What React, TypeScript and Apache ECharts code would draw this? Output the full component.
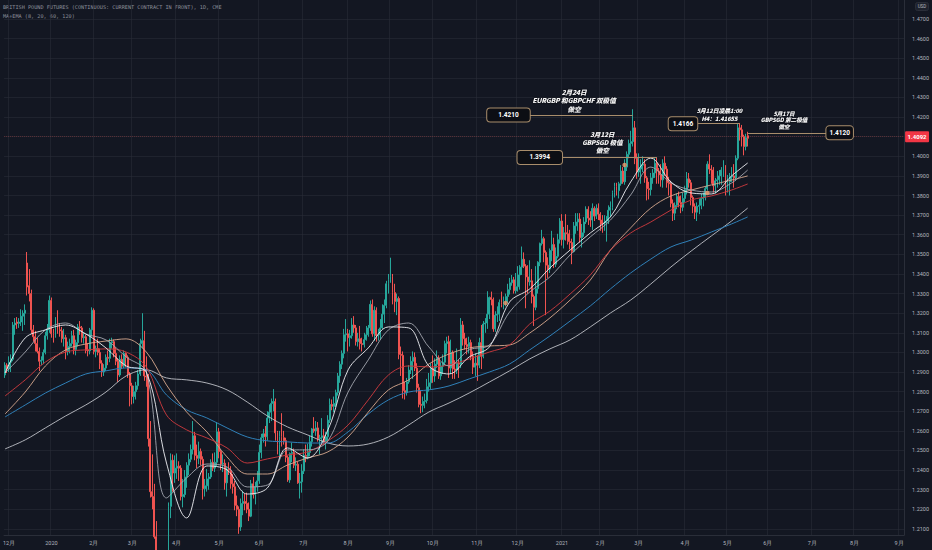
import React, { useEffect, useRef } from "react";
import * as echarts from "echarts";

// ---------- categories (CME trading days) ----------
const HOLIDAYS = [
  "2019-11-28", "2019-12-25", "2020-01-01", "2020-01-20", "2020-02-17", "2020-04-10",
  "2020-05-25", "2020-07-03", "2020-09-07", "2020-11-26", "2020-12-25", "2021-01-01",
  "2021-01-18", "2021-02-15", "2021-04-02", "2021-05-31", "2021-07-05",
];
const FIRST_DAY = "2019-11-27";
const LAST_DAY = "2021-09-03";

// ---------- OHLC data: [open, close, low, high] ----------
const ohlcNov2019 = [[1.2885, 1.2935, 1.2870, 1.2950], [1.2935, 1.2915, 1.2895, 1.2945]];
const ohlcDec2019 = [
  [1.2915, 1.2950, 1.2900, 1.2980], [1.2950, 1.2965, 1.2900, 1.2990], [1.2965, 1.3140, 1.2955, 1.3155],
  [1.3140, 1.3150, 1.3090, 1.3175], [1.3155, 1.3148, 1.3120, 1.3180], [1.3148, 1.3155, 1.3125, 1.3175],
  [1.3155, 1.3185, 1.3135, 1.3220], [1.3185, 1.3200, 1.3110, 1.3215], [1.3200, 1.3215, 1.3140, 1.3245],
  [1.3456, 1.3334, 1.3290, 1.3512], [1.3340, 1.3300, 1.3260, 1.3425], [1.3300, 1.3115, 1.3095, 1.3320],
  [1.3115, 1.3080, 1.3055, 1.3140], [1.3080, 1.3045, 1.3005, 1.3110], [1.3045, 1.3005, 1.2995, 1.3075],
  [1.3005, 1.2955, 1.2905, 1.3025], [1.2955, 1.2960, 1.2935, 1.2980], [1.2960, 1.3000, 1.2940, 1.3015],
  [1.3000, 1.3085, 1.2990, 1.3105], [1.3085, 1.3115, 1.3065, 1.3145], [1.3115, 1.3265, 1.3100, 1.3290],
];
const ohlcJan2020 = [
  [1.3265, 1.3095, 1.3075, 1.3280], [1.3095, 1.3085, 1.3050, 1.3120], [1.3085, 1.3165, 1.3075, 1.3180],
  [1.3165, 1.3115, 1.3095, 1.3215], [1.3115, 1.3110, 1.3080, 1.3150], [1.3110, 1.3070, 1.3050, 1.3130],
  [1.3070, 1.3075, 1.3030, 1.3120], [1.3075, 1.3005, 1.2965, 1.3090], [1.3005, 1.3030, 1.2985, 1.3055],
  [1.3030, 1.3045, 1.2995, 1.3070], [1.3045, 1.3085, 1.3030, 1.3110], [1.3085, 1.3015, 1.2990, 1.3115],
  [1.3015, 1.3050, 1.2985, 1.3065], [1.3050, 1.3130, 1.3030, 1.3145], [1.3130, 1.3125, 1.3090, 1.3160],
  [1.3125, 1.3075, 1.3050, 1.3135], [1.3075, 1.3080, 1.3045, 1.3100], [1.3080, 1.3010, 1.2995, 1.3090],
  [1.3012, 1.3008, 1.2980, 1.3045], [1.3008, 1.3115, 1.2990, 1.3125], [1.3115, 1.3215, 1.3080, 1.3230],
];
const ohlcFeb2020 = [
  [1.3215, 1.3005, 1.2990, 1.3225], [1.3005, 1.3020, 1.2975, 1.3035], [1.3020, 1.3000, 1.2985, 1.3070],
  [1.3000, 1.2945, 1.2915, 1.3020], [1.2945, 1.2900, 1.2875, 1.2960], [1.2900, 1.2920, 1.2880, 1.2940],
  [1.2920, 1.2975, 1.2905, 1.2990], [1.2975, 1.2970, 1.2935, 1.3010], [1.2970, 1.3050, 1.2950, 1.3070],
  [1.3050, 1.3055, 1.3020, 1.3075], [1.3055, 1.2995, 1.2975, 1.3065], [1.2995, 1.2955, 1.2935, 1.3025],
  [1.2955, 1.2885, 1.2850, 1.2970], [1.2885, 1.2965, 1.2875, 1.2985], [1.2965, 1.2930, 1.2915, 1.2990],
  [1.2930, 1.2995, 1.2920, 1.3010], [1.2995, 1.2975, 1.2925, 1.3000], [1.2975, 1.2890, 1.2870, 1.2985],
  [1.2890, 1.2830, 1.2725, 1.2900],
];
const ohlcMar2020 = [
  [1.2830, 1.2775, 1.2735, 1.2845], [1.2775, 1.2800, 1.2740, 1.2830], [1.2800, 1.2830, 1.2760, 1.2850],
  [1.2830, 1.2890, 1.2810, 1.2910], [1.2890, 1.3045, 1.2880, 1.3070], [1.3045, 1.3060, 1.3020, 1.3200],
  [1.3060, 1.2880, 1.2855, 1.3110], [1.2880, 1.2875, 1.2825, 1.2980], [1.2875, 1.2560, 1.2520, 1.2890],
  [1.2560, 1.2290, 1.2260, 1.2650], [1.2290, 1.2265, 1.2200, 1.2480], [1.2265, 1.2060, 1.2050, 1.2330],
  [1.2060, 1.1755, 1.1745, 1.2140], [1.1755, 1.1570, 1.1450, 1.1800], [1.1570, 1.1645, 1.1410, 1.1765],
  [1.1645, 1.1560, 1.1455, 1.1725], [1.1560, 1.1750, 1.1540, 1.1805], [1.1750, 1.1880, 1.1720, 1.1930],
  [1.1880, 1.2215, 1.1860, 1.2235], [1.2215, 1.2450, 1.2155, 1.2485], [1.2450, 1.2385, 1.2290, 1.2480],
  [1.2385, 1.2410, 1.2335, 1.2475],
];
const ohlcApr2020 = [
  [1.2410, 1.2420, 1.2355, 1.2485], [1.2420, 1.2410, 1.2345, 1.2445], [1.2410, 1.2265, 1.2245, 1.2425],
  [1.2265, 1.2275, 1.2210, 1.2355], [1.2275, 1.2365, 1.2260, 1.2400], [1.2365, 1.2425, 1.2310, 1.2440],
  [1.2425, 1.2455, 1.2375, 1.2485], [1.2455, 1.2505, 1.2440, 1.2530], [1.2505, 1.2575, 1.2480, 1.2650],
  [1.2575, 1.2475, 1.2450, 1.2595], [1.2475, 1.2460, 1.2410, 1.2530], [1.2460, 1.2495, 1.2430, 1.2545],
  [1.2495, 1.2455, 1.2425, 1.2510], [1.2455, 1.2305, 1.2250, 1.2470], [1.2305, 1.2320, 1.2265, 1.2355],
  [1.2320, 1.2355, 1.2290, 1.2405], [1.2355, 1.2365, 1.2300, 1.2385], [1.2365, 1.2440, 1.2355, 1.2455],
  [1.2440, 1.2410, 1.2395, 1.2485], [1.2410, 1.2440, 1.2390, 1.2490], [1.2440, 1.2595, 1.2420, 1.2645],
];
const ohlcMay2020 = [
  [1.2595, 1.2495, 1.2460, 1.2615], [1.2495, 1.2430, 1.2400, 1.2505], [1.2430, 1.2435, 1.2390, 1.2480],
  [1.2435, 1.2335, 1.2300, 1.2455], [1.2335, 1.2405, 1.2265, 1.2415], [1.2405, 1.2400, 1.2375, 1.2440],
  [1.2400, 1.2330, 1.2305, 1.2420], [1.2330, 1.2315, 1.2280, 1.2380], [1.2315, 1.2220, 1.2195, 1.2345],
  [1.2220, 1.2200, 1.2165, 1.2270], [1.2200, 1.2110, 1.2075, 1.2215], [1.2110, 1.2230, 1.2090, 1.2255],
  [1.2230, 1.2240, 1.2170, 1.2295], [1.2240, 1.2230, 1.2195, 1.2280], [1.2230, 1.2200, 1.2180, 1.2285],
  [1.2200, 1.2165, 1.2140, 1.2235], [1.2165, 1.2330, 1.2160, 1.2350], [1.2330, 1.2275, 1.2255, 1.2365],
  [1.2275, 1.2315, 1.2225, 1.2340], [1.2315, 1.2345, 1.2290, 1.2395],
];
const ohlcJun2020 = [
  [1.2345, 1.2490, 1.2330, 1.2530], [1.2490, 1.2565, 1.2460, 1.2585], [1.2565, 1.2585, 1.2540, 1.2610],
  [1.2585, 1.2570, 1.2520, 1.2625], [1.2570, 1.2665, 1.2550, 1.2700], [1.2665, 1.2695, 1.2640, 1.2735],
  [1.2695, 1.2740, 1.2650, 1.2765], [1.2740, 1.2750, 1.2700, 1.2813], [1.2750, 1.2590, 1.2550, 1.2765],
  [1.2590, 1.2530, 1.2480, 1.2600], [1.2530, 1.2570, 1.2460, 1.2600], [1.2570, 1.2565, 1.2520, 1.2690],
  [1.2565, 1.2550, 1.2530, 1.2600], [1.2550, 1.2465, 1.2440, 1.2565], [1.2465, 1.2350, 1.2340, 1.2475],
  [1.2350, 1.2485, 1.2335, 1.2490], [1.2485, 1.2490, 1.2440, 1.2540], [1.2490, 1.2425, 1.2410, 1.2510],
  [1.2425, 1.2430, 1.2395, 1.2465], [1.2430, 1.2335, 1.2330, 1.2445], [1.2335, 1.2340, 1.2255, 1.2385],
  [1.2340, 1.2395, 1.2285, 1.2430],
];
const ohlcJul2020 = [
  [1.2395, 1.2475, 1.2380, 1.2505], [1.2475, 1.2470, 1.2440, 1.2530], [1.2470, 1.2490, 1.2455, 1.2535],
  [1.2490, 1.2545, 1.2470, 1.2575], [1.2545, 1.2610, 1.2520, 1.2615], [1.2610, 1.2600, 1.2590, 1.2670],
  [1.2600, 1.2615, 1.2575, 1.2650], [1.2615, 1.2560, 1.2545, 1.2645], [1.2560, 1.2565, 1.2480, 1.2580],
  [1.2565, 1.2575, 1.2540, 1.2665], [1.2575, 1.2545, 1.2530, 1.2610], [1.2545, 1.2570, 1.2505, 1.2595],
  [1.2570, 1.2655, 1.2545, 1.2680], [1.2655, 1.2735, 1.2640, 1.2765], [1.2735, 1.2725, 1.2705, 1.2760],
  [1.2725, 1.2740, 1.2695, 1.2775], [1.2740, 1.2795, 1.2720, 1.2810], [1.2795, 1.2880, 1.2780, 1.2895],
  [1.2880, 1.2940, 1.2845, 1.2955], [1.2940, 1.2995, 1.2915, 1.3010], [1.2995, 1.3090, 1.2970, 1.3120],
  [1.3090, 1.3095, 1.3055, 1.3170],
];
const ohlcAug2020 = [
  [1.3095, 1.3075, 1.3005, 1.3120], [1.3075, 1.3085, 1.3030, 1.3115], [1.3085, 1.3140, 1.3070, 1.3175],
  [1.3140, 1.3125, 1.3100, 1.3185], [1.3125, 1.3055, 1.3035, 1.3140], [1.3055, 1.3070, 1.3030, 1.3100],
  [1.3070, 1.3045, 1.3015, 1.3135], [1.3045, 1.3040, 1.3005, 1.3075], [1.3040, 1.3065, 1.3025, 1.3100],
  [1.3065, 1.3090, 1.3060, 1.3135], [1.3090, 1.3125, 1.3080, 1.3140], [1.3125, 1.3245, 1.3110, 1.3265],
  [1.3245, 1.3095, 1.3080, 1.3270], [1.3095, 1.3215, 1.3060, 1.3235], [1.3215, 1.3085, 1.3055, 1.3230],
  [1.3085, 1.3090, 1.3060, 1.3120], [1.3090, 1.3125, 1.3065, 1.3170], [1.3125, 1.3195, 1.3120, 1.3245],
  [1.3195, 1.3240, 1.3150, 1.3270], [1.3240, 1.3350, 1.3225, 1.3365], [1.3350, 1.3370, 1.3300, 1.3400],
];
const ohlcSep2020 = [
  [1.3370, 1.3385, 1.3355, 1.3483], [1.3385, 1.3305, 1.3245, 1.3400], [1.3305, 1.3260, 1.3205, 1.3350],
  [1.3260, 1.3275, 1.3190, 1.3300], [1.3275, 1.2990, 1.2965, 1.3285], [1.2990, 1.2985, 1.2880, 1.3030],
  [1.2985, 1.2805, 1.2765, 1.3005], [1.2805, 1.2795, 1.2760, 1.2850], [1.2795, 1.2850, 1.2780, 1.2870],
  [1.2850, 1.2910, 1.2840, 1.2935], [1.2910, 1.2955, 1.2890, 1.2980], [1.2955, 1.2975, 1.2865, 1.3005],
  [1.2975, 1.2920, 1.2905, 1.3000], [1.2920, 1.2820, 1.2795, 1.2945], [1.2820, 1.2735, 1.2720, 1.2840],
  [1.2735, 1.2730, 1.2690, 1.2805], [1.2730, 1.2750, 1.2695, 1.2775], [1.2750, 1.2755, 1.2715, 1.2790],
  [1.2755, 1.2825, 1.2740, 1.2865], [1.2825, 1.2845, 1.2800, 1.2895], [1.2845, 1.2920, 1.2810, 1.2945],
];
const ohlcOct2020 = [
  [1.2920, 1.2880, 1.2845, 1.2985], [1.2880, 1.2940, 1.2850, 1.2970], [1.2940, 1.2970, 1.2920, 1.3010],
  [1.2970, 1.2880, 1.2865, 1.2985], [1.2880, 1.2930, 1.2860, 1.2950], [1.2930, 1.2950, 1.2890, 1.2990],
  [1.2950, 1.3045, 1.2935, 1.3060], [1.3045, 1.3055, 1.2995, 1.3080], [1.3055, 1.2920, 1.2870, 1.3085],
  [1.2920, 1.3000, 1.2890, 1.3065], [1.3000, 1.2915, 1.2865, 1.3010], [1.2915, 1.2910, 1.2865, 1.2960],
  [1.2910, 1.2945, 1.2890, 1.3020], [1.2945, 1.2940, 1.2870, 1.2965], [1.2940, 1.3140, 1.2920, 1.3175],
  [1.3140, 1.3070, 1.3035, 1.3160], [1.3070, 1.3040, 1.3015, 1.3100], [1.3040, 1.3030, 1.2990, 1.3075],
  [1.3030, 1.3050, 1.2995, 1.3080], [1.3050, 1.2980, 1.2960, 1.3065], [1.2980, 1.2925, 1.2890, 1.3005],
  [1.2925, 1.2945, 1.2880, 1.2995],
];
const ohlcNov2020 = [
  [1.2945, 1.2935, 1.2855, 1.2985], [1.2935, 1.3050, 1.2920, 1.3075], [1.3050, 1.2980, 1.2915, 1.3140],
  [1.2980, 1.3145, 1.2970, 1.3160], [1.3145, 1.3150, 1.3100, 1.3175], [1.3150, 1.3195, 1.3120, 1.3312],
  [1.3195, 1.3280, 1.3170, 1.3285], [1.3280, 1.3270, 1.3240, 1.3310], [1.3270, 1.3120, 1.3105, 1.3280],
  [1.3120, 1.3190, 1.3105, 1.3210], [1.3190, 1.3195, 1.3155, 1.3235], [1.3195, 1.3255, 1.3160, 1.3270],
  [1.3255, 1.3245, 1.3230, 1.3310], [1.3245, 1.3260, 1.3220, 1.3285], [1.3260, 1.3285, 1.3235, 1.3300],
  [1.3285, 1.3320, 1.3250, 1.3350], [1.3320, 1.3355, 1.3295, 1.3380], [1.3355, 1.3370, 1.3340, 1.3395],
  [1.3370, 1.3315, 1.3300, 1.3385], [1.3315, 1.3335, 1.3300, 1.3405],
];
const ohlcDec2020 = [
  [1.3335, 1.3395, 1.3310, 1.3440], [1.3395, 1.3435, 1.3320, 1.3445], [1.3435, 1.3475, 1.3395, 1.3540],
  [1.3475, 1.3440, 1.3430, 1.3510], [1.3440, 1.3385, 1.3225, 1.3450], [1.3385, 1.3360, 1.3300, 1.3445],
  [1.3360, 1.3365, 1.3340, 1.3470], [1.3365, 1.3285, 1.3250, 1.3425], [1.3285, 1.3230, 1.3135, 1.3295],
  [1.3230, 1.3325, 1.3215, 1.3440], [1.3325, 1.3460, 1.3300, 1.3465], [1.3460, 1.3555, 1.3440, 1.3560],
  [1.3555, 1.3580, 1.3545, 1.3625], [1.3580, 1.3510, 1.3460, 1.3590], [1.3510, 1.3445, 1.3190, 1.3520],
  [1.3445, 1.3425, 1.3380, 1.3485], [1.3425, 1.3520, 1.3405, 1.3530], [1.3520, 1.3550, 1.3465, 1.3620],
  [1.3550, 1.3450, 1.3430, 1.3585], [1.3450, 1.3490, 1.3435, 1.3535], [1.3490, 1.3575, 1.3480, 1.3605],
  [1.3575, 1.3670, 1.3555, 1.3685],
];
const ohlcJan2021 = [
  [1.3670, 1.3575, 1.3545, 1.3705], [1.3575, 1.3610, 1.3530, 1.3640], [1.3610, 1.3605, 1.3570, 1.3705],
  [1.3605, 1.3565, 1.3550, 1.3650], [1.3565, 1.3560, 1.3525, 1.3625], [1.3560, 1.3515, 1.3450, 1.3580],
  [1.3515, 1.3645, 1.3510, 1.3665], [1.3645, 1.3665, 1.3605, 1.3710], [1.3665, 1.3680, 1.3620, 1.3710],
  [1.3680, 1.3585, 1.3560, 1.3710], [1.3585, 1.3610, 1.3535, 1.3655], [1.3610, 1.3665, 1.3590, 1.3690],
  [1.3665, 1.3730, 1.3655, 1.3745], [1.3730, 1.3685, 1.3650, 1.3745], [1.3685, 1.3675, 1.3640, 1.3720],
  [1.3675, 1.3735, 1.3625, 1.3760], [1.3735, 1.3695, 1.3670, 1.3745], [1.3695, 1.3735, 1.3680, 1.3755],
  [1.3735, 1.3705, 1.3675, 1.3760],
];
const ohlcFeb2021 = [
  [1.3705, 1.3675, 1.3620, 1.3715], [1.3675, 1.3655, 1.3610, 1.3700], [1.3655, 1.3660, 1.3620, 1.3700],
  [1.3660, 1.3670, 1.3565, 1.3695], [1.3670, 1.3725, 1.3655, 1.3750], [1.3725, 1.3740, 1.3690, 1.3770],
  [1.3740, 1.3815, 1.3725, 1.3825], [1.3815, 1.3845, 1.3790, 1.3865], [1.3845, 1.3825, 1.3800, 1.3865],
  [1.3825, 1.3860, 1.3785, 1.3870], [1.3860, 1.3925, 1.3850, 1.3955], [1.3925, 1.3870, 1.3860, 1.3945],
  [1.3870, 1.3945, 1.3855, 1.3985], [1.3945, 1.4010, 1.3925, 1.4025], [1.4010, 1.4065, 1.3990, 1.4085],
  [1.4065, 1.4075, 1.4020, 1.4130], [1.4075, 1.4145, 1.4050, 1.4240], [1.4145, 1.3990, 1.3960, 1.4180],
  [1.3990, 1.3920, 1.3885, 1.4015],
];
const ohlcMar2021 = [
  [1.3920, 1.3935, 1.3895, 1.4015], [1.3935, 1.3955, 1.3860, 1.3985], [1.3955, 1.3960, 1.3920, 1.4000],
  [1.3960, 1.3890, 1.3865, 1.3985], [1.3890, 1.3835, 1.3775, 1.3900], [1.3835, 1.3830, 1.3780, 1.3870],
  [1.3830, 1.3890, 1.3800, 1.3915], [1.3890, 1.3915, 1.3860, 1.3935], [1.3915, 1.3965, 1.3890, 1.3990],
  [1.3965, 1.3925, 1.3860, 1.3995], [1.3925, 1.3905, 1.3860, 1.3940], [1.3905, 1.3880, 1.3845, 1.3960],
  [1.3880, 1.3965, 1.3840, 1.3985], [1.3965, 1.3935, 1.3900, 1.4000], [1.3935, 1.3865, 1.3840, 1.3950],
  [1.3865, 1.3860, 1.3800, 1.3895], [1.3860, 1.3760, 1.3740, 1.3875], [1.3760, 1.3710, 1.3670, 1.3780],
  [1.3710, 1.3750, 1.3675, 1.3765], [1.3750, 1.3795, 1.3730, 1.3810], [1.3795, 1.3765, 1.3740, 1.3820],
  [1.3765, 1.3740, 1.3710, 1.3800], [1.3740, 1.3785, 1.3720, 1.3815],
];
const ohlcApr2021 = [
  [1.3785, 1.3830, 1.3765, 1.3850], [1.3830, 1.3885, 1.3805, 1.3920], [1.3885, 1.3865, 1.3840, 1.3915],
  [1.3865, 1.3790, 1.3750, 1.3880], [1.3790, 1.3745, 1.3710, 1.3800], [1.3745, 1.3715, 1.3680, 1.3760],
  [1.3715, 1.3745, 1.3670, 1.3765], [1.3745, 1.3750, 1.3705, 1.3785], [1.3750, 1.3785, 1.3730, 1.3810],
  [1.3785, 1.3790, 1.3745, 1.3815], [1.3790, 1.3835, 1.3775, 1.3845], [1.3835, 1.3960, 1.3825, 1.3975],
  [1.3960, 1.3935, 1.3910, 1.4010], [1.3935, 1.3930, 1.3860, 1.3955], [1.3930, 1.3850, 1.3815, 1.3945],
  [1.3850, 1.3875, 1.3810, 1.3890], [1.3875, 1.3880, 1.3840, 1.3925], [1.3880, 1.3900, 1.3855, 1.3930],
  [1.3900, 1.3930, 1.3855, 1.3945], [1.3930, 1.3940, 1.3895, 1.3980], [1.3940, 1.3825, 1.3800, 1.3955],
];
const ohlcMay2021 = [
  [1.3825, 1.3870, 1.3815, 1.3905], [1.3870, 1.3895, 1.3800, 1.3915], [1.3895, 1.3900, 1.3870, 1.3945],
  [1.3900, 1.3890, 1.3840, 1.3960], [1.3890, 1.3990, 1.3875, 1.4005], [1.3990, 1.4145, 1.3980, 1.4165],
  [1.4145, 1.4135, 1.4080, 1.4170], [1.4135, 1.4100, 1.4050, 1.4160], [1.4100, 1.4050, 1.4005, 1.4110],
  [1.4050, 1.4095, 1.4030, 1.4115], [1.4105, 1.4092, 1.4050, 1.4125],
];

// ---------- indicator lines (sampled every 10 bars) ----------
const maIndex = [0, 10, 20, 30, 40, 50, 60, 70, 80, 90, 100, 110, 120, 130, 140, 150, 160, 170, 180, 190,
  200, 210, 220, 230, 240, 250, 260, 270, 280, 290, 300, 310, 320, 330, 340, 350, 360, 368];
const maWhite = [1.2895, 1.3074, 1.3115, 1.3140, 1.3094, 1.3023, 1.2931, 1.2900, 1.2436, 1.2156, 1.2421, 1.2401,
  1.2278, 1.2309, 1.2513, 1.2462, 1.2605, 1.2911, 1.3023, 1.3130, 1.3125, 1.2931, 1.2890, 1.2977, 1.3028, 1.3257,
  1.3324, 1.3431, 1.3522, 1.3609, 1.3691, 1.3869, 1.3991, 1.3869, 1.3813, 1.3808, 1.3900, 1.3966];
const maGray = [1.2895, 1.3002, 1.3115, 1.3150, 1.3094, 1.3064, 1.2977, 1.2900, 1.2258, 1.2360, 1.2431, 1.2416,
  1.2314, 1.2324, 1.2503, 1.2503, 1.2549, 1.2798, 1.2962, 1.3115, 1.3150, 1.3028, 1.2931, 1.3013, 1.3038, 1.3206,
  1.3308, 1.3385, 1.3497, 1.3589, 1.3675, 1.3803, 1.3945, 1.3864, 1.3828, 1.3818, 1.3864, 1.3930];
const maRed = [1.2778, 1.2860, 1.2951, 1.3002, 1.3013, 1.3018, 1.3002, 1.2926, 1.2681, 1.2605, 1.2564, 1.2513,
  1.2436, 1.2457, 1.2477, 1.2493, 1.2549, 1.2630, 1.2758, 1.2885, 1.2931, 1.2926, 1.2936, 1.2967, 1.3002, 1.3038,
  1.3145, 1.3211, 1.3298, 1.3395, 1.3522, 1.3609, 1.3665, 1.3726, 1.3777, 1.3798, 1.3828, 1.3859];
const maBeige = [1.2686, 1.2798, 1.2931, 1.3013, 1.3043, 1.3058, 1.3069, 1.3002, 1.2834, 1.2696, 1.2595, 1.2467,
  1.2380, 1.2380, 1.2426, 1.2462, 1.2493, 1.2569, 1.2696, 1.2809, 1.2860, 1.2941, 1.2992, 1.3023, 1.3033, 1.3038,
  1.3099, 1.3176, 1.3267, 1.3369, 1.3522, 1.3635, 1.3736, 1.3798, 1.3828, 1.3854, 1.3879, 1.3900];
const maBlue = [1.2671, 1.2732, 1.2793, 1.2844, 1.2890, 1.2906, 1.2921, 1.2911, 1.2783, 1.2707, 1.2666, 1.2615,
  1.2569, 1.2549, 1.2544, 1.2538, 1.2538, 1.2595, 1.2686, 1.2758, 1.2798, 1.2809, 1.2829, 1.2865, 1.2900, 1.2941,
  1.3013, 1.3084, 1.3160, 1.3237, 1.3324, 1.3405, 1.3476, 1.3538, 1.3573, 1.3614, 1.3655, 1.3691];
const maSlow = [1.2508, 1.2554, 1.2615, 1.2676, 1.2732, 1.2798, 1.2880, 1.2911, 1.2870, 1.2860, 1.2844, 1.2809,
  1.2747, 1.2676, 1.2620, 1.2579, 1.2538, 1.2523, 1.2533, 1.2569, 1.2630, 1.2696, 1.2742, 1.2793, 1.2849, 1.2906,
  1.2967, 1.3018, 1.3064, 1.3130, 1.3201, 1.3267, 1.3349, 1.3436, 1.3517, 1.3594, 1.3670, 1.3736];

// ---------- markers / annotations ----------
const dotIndex = [248, 307, 348];
const dotPrice = [1.3252, 1.3956, 1.3813];
const lastPrice = 1.4092;
const boxPrices = [1.4210, 1.3994, 1.4166, 1.4120];
const boxFrom = [260, 276, 343, 368];
const boxTo = [311, 323, 364, 407];
const noteIndex = [282, 296, 354, 386];
const notePrice = [1.4210, 1.3994, 1.4166, 1.4120];
const noteTexts = [
  "2月24日\nEURGBP 和GBPCHF 双极值\n做空",
  "3月12日\nGBPSGD 极值\n做空",
  "5月12日凌晨1:00\nH4：1.41655",
  "5月17日\nGBPSGD 第二极值\n做空",
];
const yTicks = [1.21, 1.22, 1.23, 1.24, 1.25, 1.26, 1.27, 1.28, 1.29, 1.30, 1.31, 1.32, 1.33, 1.34,
  1.35, 1.36, 1.37, 1.38, 1.39, 1.40, 1.41, 1.42, 1.43, 1.44, 1.45, 1.46, 1.47];
const yLabels = yTicks.filter((v) => Math.abs(v - 1.41) > 1e-6);

function tradingDays(): string[] {
  const out: string[] = [];
  const d = new Date(FIRST_DAY + "T00:00:00Z");
  const end = new Date(LAST_DAY + "T00:00:00Z").getTime();
  while (d.getTime() <= end) {
    const wd = d.getUTCDay();
    const s = d.toISOString().slice(0, 10);
    if (wd !== 0 && wd !== 6 && HOLIDAYS.indexOf(s) < 0) out.push(s);
    d.setUTCDate(d.getUTCDate() + 1);
  }
  return out;
}

export default function App() {
  const ref = useRef<HTMLDivElement>(null);
  useEffect(() => {
    if (!ref.current) return;
    const chart = echarts.init(ref.current, null, { renderer: "svg" });
    const cats = tradingDays();
    const isMonthStart = (i: number) => i > 0 && cats[i].slice(0, 7) !== cats[i - 1].slice(0, 7);
    const ohlc = [
      ...ohlcNov2019, ...ohlcDec2019, ...ohlcJan2020, ...ohlcFeb2020, ...ohlcMar2020, ...ohlcApr2020,
      ...ohlcMay2020, ...ohlcJun2020, ...ohlcJul2020, ...ohlcAug2020, ...ohlcSep2020, ...ohlcOct2020,
      ...ohlcNov2020, ...ohlcDec2020, ...ohlcJan2021, ...ohlcFeb2021, ...ohlcMar2021, ...ohlcApr2021,
      ...ohlcMay2021,
    ];
    const lineSeries = (name: string, vals: number[], color: string, opacity: number) => ({
      name,
      type: "line",
      data: maIndex.map((i, k) => [i, vals[k]]),
      smooth: 0.35,
      showSymbol: false,
      symbol: "none",
      silent: true,
      z: 3,
      lineStyle: { color, width: 1, opacity },
    });
    const tan = "#a88d6b";
    const noteLabelBase = {
      show: true,
      position: "top",
      color: "#ffffff",
      fontStyle: "italic",
      fontWeight: "bold",
      fontFamily: '"Noto Sans CJK SC", "Noto Sans", sans-serif',
      align: "center",
      textShadowColor: "rgba(0,0,0,0.95)",
      textShadowBlur: 2,
    };
    const noteSizes = [
      { fontSize: 6.6, lineHeight: 8.5, distance: 2 },
      { fontSize: 6.4, lineHeight: 7.8, distance: 3 },
      { fontSize: 5.8, lineHeight: 8, distance: 1 },
      { fontSize: 5.6, lineHeight: 6.6, distance: 2.5 },
    ];
    const boxPad = [11, 12, 4, 3];
    const option: any = {
      animation: false,
      backgroundColor: "#131722",
      textStyle: { fontFamily: "Roboto, sans-serif" },
      grid: { left: 0, right: 27, top: 0, bottom: 15, containLabel: false },
      xAxis: {
        type: "category",
        data: cats,
        boundaryGap: true,
        axisLine: { show: true, lineStyle: { color: "#2a2e39" } },
        axisTick: { show: false },
        axisLabel: {
          interval: (i: number) => isMonthStart(i),
          color: "#b2b5be",
          fontSize: 5.5,
          margin: 5,
          formatter: (v: string) => {
            const m = parseInt(v.slice(5, 7), 10);
            return m === 1 ? v.slice(0, 4) : m + "月";
          },
        },
        splitLine: {
          show: true,
          interval: (i: number) => isMonthStart(i),
          lineStyle: { color: "rgba(42,46,57,0.55)", width: 1 },
        },
      },
      yAxis: {
        type: "value",
        position: "right",
        min: 1.2069,
        max: 1.4797,
        axisLine: { show: true, lineStyle: { color: "#2a2e39" } },
        axisTick: { show: false, customValues: yTicks },
        axisLabel: {
          customValues: yLabels,
          color: "#b2b5be",
          fontSize: 5.5,
          margin: 8,
          formatter: (v: number) => v.toFixed(4),
        },
        splitLine: { show: true, lineStyle: { color: "rgba(42,46,57,0.55)", width: 1 } },
      },
      graphic: [
        {
          type: "text",
          left: 3,
          top: 4.5,
          style: {
            text: "BRITISH POUND FUTURES (CONTINUOUS: CURRENT CONTRACT IN FRONT), 1D, CME",
            fill: "#8d909a",
            font: '5.2px "DejaVu Sans Mono", monospace',
          },
        },
        {
          type: "text",
          left: 3,
          top: 13,
          style: { text: "MA+EMA (8, 20, 60, 120)", fill: "#8d909a", font: '5.2px "DejaVu Sans Mono", monospace' },
        },
        {
          type: "group",
          right: 3,
          top: 2,
          children: [
            { type: "rect", shape: { x: 0, y: 0, width: 13, height: 8, r: 2 }, style: { fill: "#1e222d", stroke: "#2a2e39" } },
            { type: "text", x: 6.5, y: 4, style: { text: "USD", fill: "#b2b5be", font: "4.6px Roboto", align: "center", verticalAlign: "middle" } },
          ],
        },
      ],
      series: [
        {
          name: "GBP",
          type: "candlestick",
          data: ohlc,
          barWidth: "72%",
          z: 2,
          silent: true,
          itemStyle: {
            color: "#26a69a",
            color0: "#ef5350",
            borderColor: "#26a69a",
            borderColor0: "#ef5350",
            borderWidth: 1,
          },
          markLine: {
            silent: true,
            symbol: ["none", "none"],
            animation: false,
            data: [
              {
                yAxis: lastPrice,
                lineStyle: { color: "rgba(239,83,80,0.28)", type: "dotted", width: 1, opacity: 1 },
                label: {
                  show: true,
                  position: "end",
                  distance: 1,
                  formatter: lastPrice.toFixed(4),
                  color: "#ffffff",
                  fontSize: 6,
                  fontWeight: "bold",
                  backgroundColor: "#f23645",
                  padding: [2.5, 2.5],
                  borderRadius: 1,
                },
              },
              ...boxPrices.map((p, k) => [
                {
                  coord: [boxFrom[k], p],
                  lineStyle: { color: tan, type: "solid", width: 1, opacity: 1 },
                  label: {
                    show: true,
                    position: k === 3 ? "end" : "start",
                    distance: 0,
                    formatter: p.toFixed(4),
                    color: "#ffffff",
                    fontSize: 6.5,
                    fontWeight: "bold",
                    fontFamily: "Roboto, sans-serif",
                    backgroundColor: "#0c0e14",
                    borderColor: tan,
                    borderWidth: 1,
                    borderRadius: 3,
                    padding: [3, boxPad[k]],
                  },
                },
                { coord: [boxTo[k], p] },
              ]),
            ],
          },
          markPoint: {
            silent: true,
            animation: false,
            symbol: "circle",
            symbolSize: 0,
            data: noteTexts.map((t, k) => ({
              coord: [noteIndex[k], notePrice[k]],
              itemStyle: { color: "transparent" },
              label: { ...noteLabelBase, ...noteSizes[k], formatter: t },
            })),
          },
        },
        lineSeries("MA120", maSlow, "#c9cbd1", 0.85),
        lineSeries("EMA120", maBlue, "#2f80b8", 1),
        lineSeries("MA60", maBeige, "#d7a98e", 0.9),
        lineSeries("EMA60", maRed, "#c8393d", 0.95),
        lineSeries("MA20", maGray, "#a3a6af", 0.9),
        lineSeries("EMA8", maWhite, "#eef0f4", 0.9),
        {
          name: "marks",
          type: "scatter",
          data: dotIndex.map((i, k) => [i, dotPrice[k]]),
          symbolSize: 4.5,
          z: 5,
          silent: true,
          itemStyle: { color: "#f59b6c" },
        },
      ],
    };
    chart.setOption(option);
    return () => chart.dispose();
  }, []);
  return <div ref={ref} style={{ position: "fixed", left: 0, top: 0, width: 932, height: 550 }} />;
}
